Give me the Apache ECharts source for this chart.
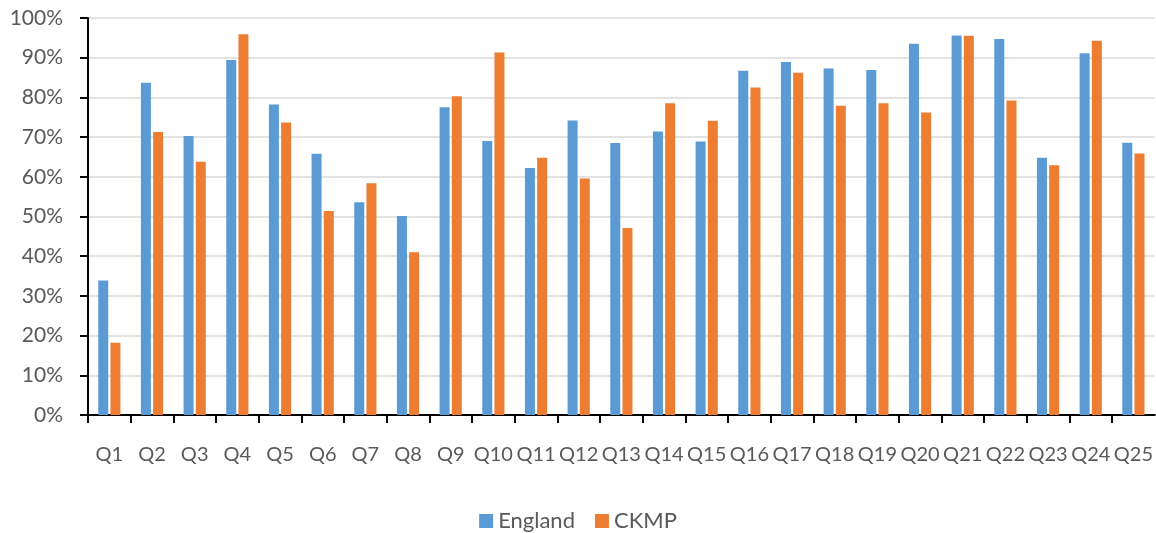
<!DOCTYPE html>
<html><head><meta charset="utf-8">
<script src="https://cdn.jsdelivr.net/npm/echarts@6/dist/echarts.min.js"></script>
<style>html,body{margin:0;padding:0;background:#fff}#c{width:1156px;height:533px}</style>
</head><body><div id="c"></div>
<script>
const categories = ['Q1','Q2','Q3','Q4','Q5','Q6','Q7','Q8','Q9','Q10','Q11','Q12','Q13','Q14','Q15','Q16','Q17','Q18','Q19','Q20','Q21','Q22','Q23','Q24','Q25'];
const england = [33.9,83.7,70.3,89.4,78.2,65.8,53.6,50.1,77.5,69.0,62.2,74.2,68.5,71.4,68.9,86.7,88.9,87.3,86.9,93.5,95.6,94.7,64.8,91.1,68.6];
const ckmp = [18.2,71.3,63.8,95.9,73.7,51.4,58.4,41.0,80.3,91.3,64.8,59.6,47.1,78.5,74.1,82.5,86.2,77.9,78.5,76.2,95.5,79.2,62.9,94.3,65.9];
const seriesNames = ['England','CKMP'];
const font = 'Lato, "Open Sans", sans-serif';
const chart = echarts.init(document.getElementById('c'));
chart.setOption({
  animation: false,
  grid: {left: 88, right: 1, top: 18, bottom: 118, containLabel: false},
  legend: {
    top: 510, left: 'center', itemWidth: 14, itemHeight: 14, itemGap: 20, padding: 0,
    icon: 'rect',
    textStyle: {color: '#595959', fontSize: 22, fontFamily: font},
    data: seriesNames
  },
  xAxis: {
    type: 'category', data: categories, boundaryGap: true,
    axisLine: {lineStyle: {color: '#000', width: 2}},
    axisTick: {show: true, length: 8, lineStyle: {color: '#000', width: 2}, alignWithLabel: false},
    axisLabel: {color: '#595959', fontSize: 20, fontFamily: font, margin: 30, interval: 0}
  },
  yAxis: {
    type: 'value', min: 0, max: 100, interval: 10,
    axisLine: {show: true, lineStyle: {color: '#000', width: 2}},
    axisTick: {show: true, length: 8, lineStyle: {color: '#000', width: 2}},
    splitLine: {lineStyle: {color: '#d9d9d9', width: 1.5}},
    axisLabel: {color: '#595959', fontSize: 21, fontFamily: font, margin: 25, formatter: '{value}%'}
  },
  series: [
    {name: seriesNames[0], type: 'bar', data: england, barWidth: 10, barGap: '22%', itemStyle: {color: '#5B9BD5'}},
    {name: seriesNames[1], type: 'bar', data: ckmp, barWidth: 10, barGap: '22%', itemStyle: {color: '#ED7D31'}}
  ]
});
</script></body></html>
